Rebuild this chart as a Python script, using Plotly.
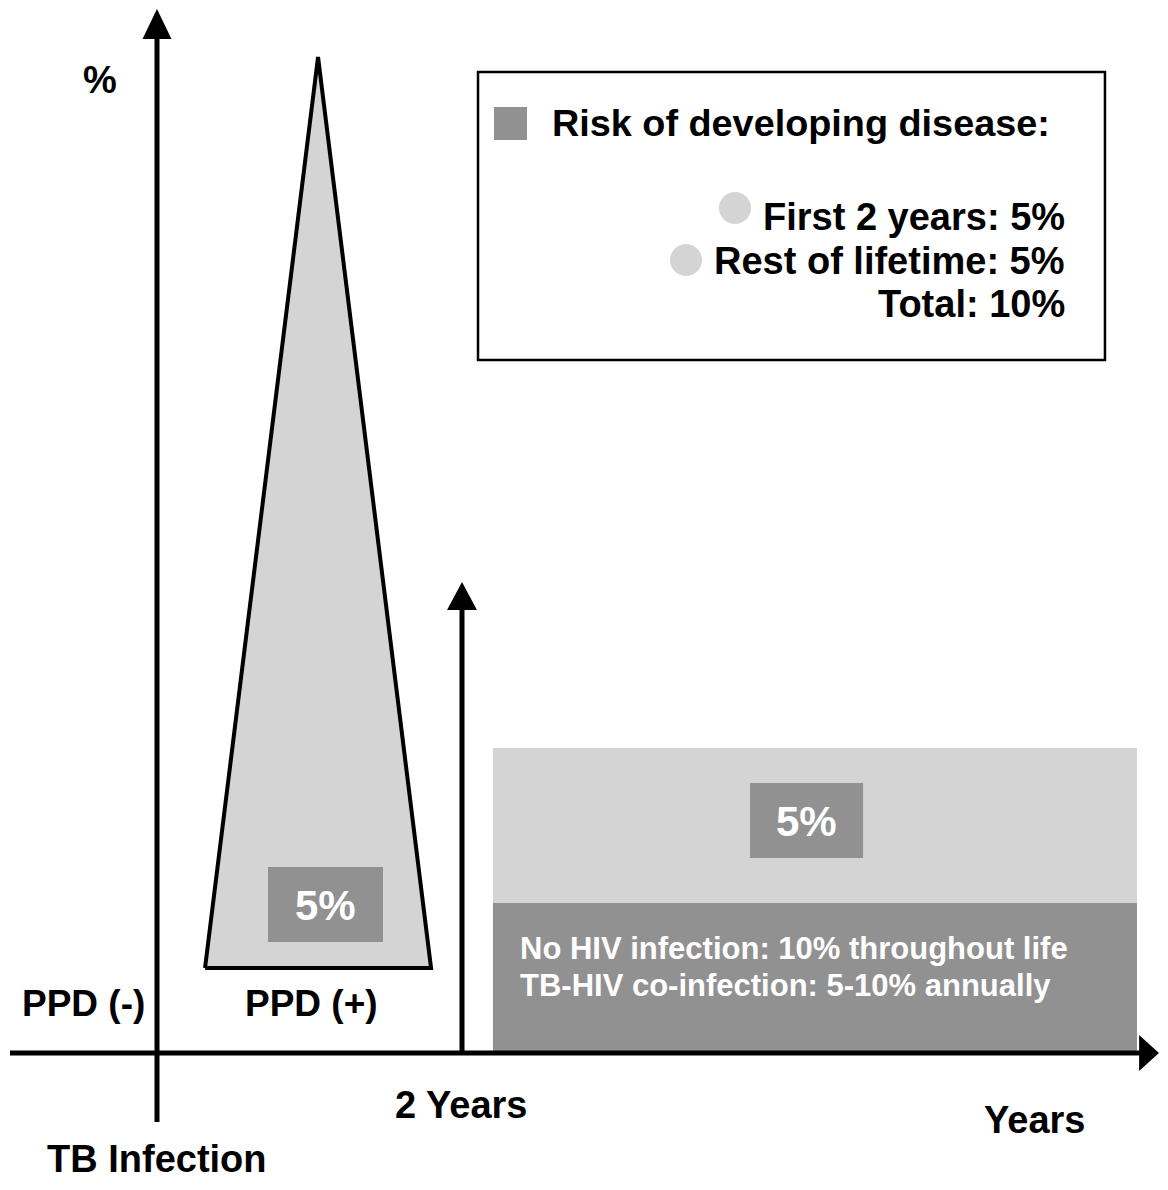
import plotly.graph_objects as go

# diagram units: x in years after infection, y in relative risk units
infection_year = 0
marker_year = 2
xaxis_end = 6.57
yaxis_top = 104.4

# first-2-years risk triangle
tri_x = [0.315, 1.056, 1.797, 0.315]
tri_y = [8.5, 99.6, 8.5, 8.5]

# lifetime risk bands (after 2 years)
band_x = [2.203, 6.426]
band_dark = [0, 15.0]
band_light = [15.0, 30.5]

first_two_years = 5
rest_of_life = 5
total_risk = first_two_years + rest_of_life

LIGHT = "#d4d4d4"
DARK = "#919191"
FONT = "Liberation Sans, Arial, sans-serif"

fig = go.Figure()


def poly(xs, ys, fill, line_color=None, width=0):
    fig.add_trace(go.Scatter(
        x=xs, y=ys, mode="lines", fill="toself", fillcolor=fill,
        line=dict(color=line_color or fill, width=width),
        hoverinfo="skip", showlegend=False,
    ))


def seg(xs, ys, width=5):
    fig.add_trace(go.Scatter(
        x=xs, y=ys, mode="lines", line=dict(color="black", width=width),
        hoverinfo="skip", showlegend=False,
    ))


# bands
poly([band_x[0], band_x[1], band_x[1], band_x[0], band_x[0]],
     [band_light[0], band_light[0], band_light[1], band_light[1], band_light[0]], LIGHT)
poly([band_x[0], band_x[1], band_x[1], band_x[0], band_x[0]],
     [band_dark[0], band_dark[0], band_dark[1], band_dark[1], band_dark[0]], DARK)
poly([3.889, 4.630, 4.630, 3.889, 3.889], [19.5, 19.5, 27.0, 27.0, 19.5], DARK)

# triangle
poly(tri_x, tri_y, LIGHT, "black", 4)
poly([0.728, 1.482, 1.482, 0.728, 0.728], [11.1, 11.1, 18.6, 18.6, 11.1], DARK)

# axes with arrowheads
seg([infection_year, infection_year], [-6.9, 101.6])
poly([-0.095, 0.095, 0, -0.095], [101.4, 101.4, yaxis_top, 101.4], "black")
seg([-0.964, 6.45], [0, 0])
poly([6.44, 6.44, xaxis_end, 6.44], [-1.8, 1.8, 0, -1.8], "black")
seg([marker_year, marker_year], [0, 44.5])
poly([marker_year - 0.098, marker_year + 0.098, marker_year, marker_year - 0.098],
     [44.3, 44.3, 47.1, 44.3], "black")

# legend box
fig.add_shape(type="rect", x0=2.105, x1=6.216, y0=69.3, y1=98.1,
              line=dict(color="black", width=2.5), fillcolor="white", layer="below")
fig.add_shape(type="rect", x0=2.210, x1=2.426, y0=91.3, y1=94.6,
              line=dict(width=0), fillcolor=DARK, layer="below")
fig.add_trace(go.Scatter(
    x=[3.790, 3.469], y=[84.5, 79.3], mode="markers",
    marker=dict(size=32, color=LIGHT), hoverinfo="skip", showlegend=False,
))


def label(x, y, text, size=38, color="black", xanchor="center", yanchor="middle"):
    fig.add_annotation(x=x, y=y, text=f"<b>{text}</b>", showarrow=False,
                       xanchor=xanchor, yanchor=yanchor,
                       font=dict(family=FONT, size=size, color=color))


label(-0.374, 97.3, "%", size=38)
label(2.577, 93.0, "Risk of developing disease:", size=37.8, xanchor="left")
label(5.968, 83.6, f"First 2 years: {first_two_years}%", xanchor="right")
label(5.968, 79.2, f"Rest of lifetime: {rest_of_life}%", xanchor="right")
label(5.968, 74.9, f"Total: {total_risk}%", xanchor="right")
label(1.102, 14.8, f"{first_two_years}%", size=42, color="white")
label(4.256, 23.2, f"{rest_of_life}%", size=42, color="white")
label(2.367, 10.5, "No HIV infection: 10% throughout life", size=31, color="white", xanchor="left")
label(2.367, 6.8, "TB-HIV co-infection: 5-10% annually", size=31, color="white", xanchor="left")
label(-0.485, 5.0, "PPD (-)", size=37)
label(1.016, 5.0, "PPD (+)", size=37)
label(1.993, -5.2, "2 Years")
label(5.751, -6.7, "Years")
label(0, -12.85, "TB Infection", yanchor="bottom")

fig.update_xaxes(range=[-0.977, 6.577], visible=False, fixedrange=True)
fig.update_yaxes(range=[-12.9, 104.5], visible=False, fixedrange=True)
fig.update_layout(
    width=1152, height=1174,
    margin=dict(l=0, r=0, t=0, b=0),
    plot_bgcolor="white", paper_bgcolor="white",
)

fig.write_html("out.html")
